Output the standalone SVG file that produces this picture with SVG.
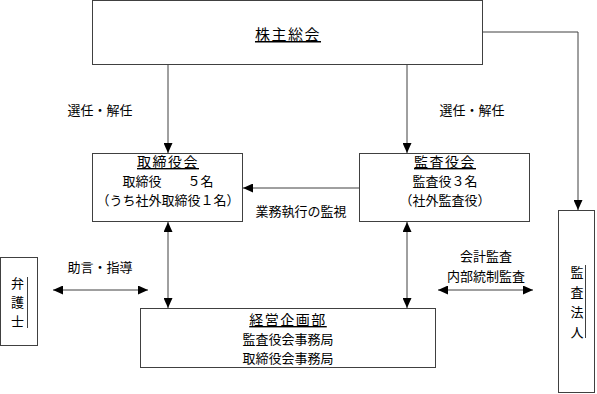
<svg xmlns="http://www.w3.org/2000/svg" width="597" height="394" viewBox="0 0 597 394">
  <style>
    .box { fill: #ffffff; stroke: #404040; stroke-width: 1; }
    .ln { fill: none; stroke: #404040; stroke-width: 1; }
    .dec { stroke: #404040; stroke-width: 1; }
    text { font-family: "Noto Sans CJK JP", "Noto Sans", sans-serif; fill: #000; }
    .t { font-size: 14px; letter-spacing: 1.5px; text-decoration: underline; text-anchor: middle; }
    .b { font-size: 13px; text-anchor: middle; }
    .v { font-size: 13px; text-anchor: middle; }
  </style>
  <defs>
    <marker id="ah" markerUnits="userSpaceOnUse" markerWidth="10" markerHeight="9" refX="10" refY="4.5" orient="auto-start-reverse" viewBox="0 0 10 9">
      <path d="M0,0 L10,4.5 L0,9 z" fill="#000"/>
    </marker>
  </defs>

  <rect width="597" height="394" fill="#ffffff"/>

  <g id="connectors">
    <line class="ln" x1="168" y1="64" x2="168" y2="153" marker-end="url(#ah)"/>
    <line class="ln" x1="407" y1="64" x2="407" y2="153" marker-end="url(#ah)"/>
    <polyline class="ln" points="483,32 578,32 578,210" marker-end="url(#ah)"/>
    <line class="ln" x1="359" y1="188" x2="243" y2="188" marker-end="url(#ah)"/>
    <line class="ln" x1="168" y1="222" x2="168" y2="308" marker-start="url(#ah)" marker-end="url(#ah)"/>
    <line class="ln" x1="407" y1="222" x2="407" y2="308" marker-start="url(#ah)" marker-end="url(#ah)"/>
    <line class="ln" x1="53" y1="290" x2="148" y2="290" marker-start="url(#ah)" marker-end="url(#ah)"/>
    <line class="ln" x1="438" y1="290" x2="533" y2="290" marker-start="url(#ah)" marker-end="url(#ah)"/>
    <text class="b" x="100" y="115">選任・解任</text>
    <text class="b" x="472" y="115">選任・解任</text>
    <text class="b" x="301" y="216">業務執行の監視</text>
    <text class="b" x="100" y="272">助言・指導</text>
    <text class="b" x="486" y="261">会計監査</text>
    <text class="b" x="486" y="280.5">内部統制監査</text>
  </g>

  <g id="shareholders">
    <rect class="box" x="92.5" y="0.5" width="390" height="64"/>
    <text class="t" x="288" y="40" style="font-size:15px">株主総会</text>
  </g>

  <g id="board">
    <rect class="box" x="92.5" y="153.5" width="150" height="68"/>
    <text class="t" x="168" y="167">取締役会</text>
    <text class="b" x="168" y="186">取締役　　５名</text>
    <text class="b" x="168" y="205">（うち社外取締役１名）</text>
  </g>

  <g id="auditors">
    <rect class="box" x="359.5" y="153.5" width="170" height="68"/>
    <text class="t" x="445" y="167">監査役会</text>
    <text class="b" x="445" y="186">監査役３名</text>
    <text class="b" x="445" y="205">（社外監査役）</text>
  </g>

  <g id="planning">
    <rect class="box" x="140.5" y="308.5" width="295" height="59"/>
    <text class="t" x="288" y="325">経営企画部</text>
    <text class="b" x="288" y="344">監査役会事務局</text>
    <text class="b" x="288" y="363">取締役会事務局</text>
  </g>

  <g id="lawyer">
    <rect class="box" x="0.5" y="257.5" width="37" height="88"/>
    <text class="v" x="17.5" y="288">弁</text>
    <text class="v" x="17.5" y="307">護</text>
    <text class="v" x="17.5" y="326">士</text>
    <line class="dec" x1="27.5" y1="277" x2="27.5" y2="328"/>
  </g>

  <g id="audit-firm">
    <rect class="box" x="558.5" y="210.5" width="36" height="182"/>
    <text class="v" x="577" y="277">監</text>
    <text class="v" x="577" y="297">査</text>
    <text class="v" x="577" y="317">法</text>
    <text class="v" x="577" y="337">人</text>
    <line class="dec" x1="585.5" y1="265" x2="585.5" y2="338"/>
  </g>
</svg>
